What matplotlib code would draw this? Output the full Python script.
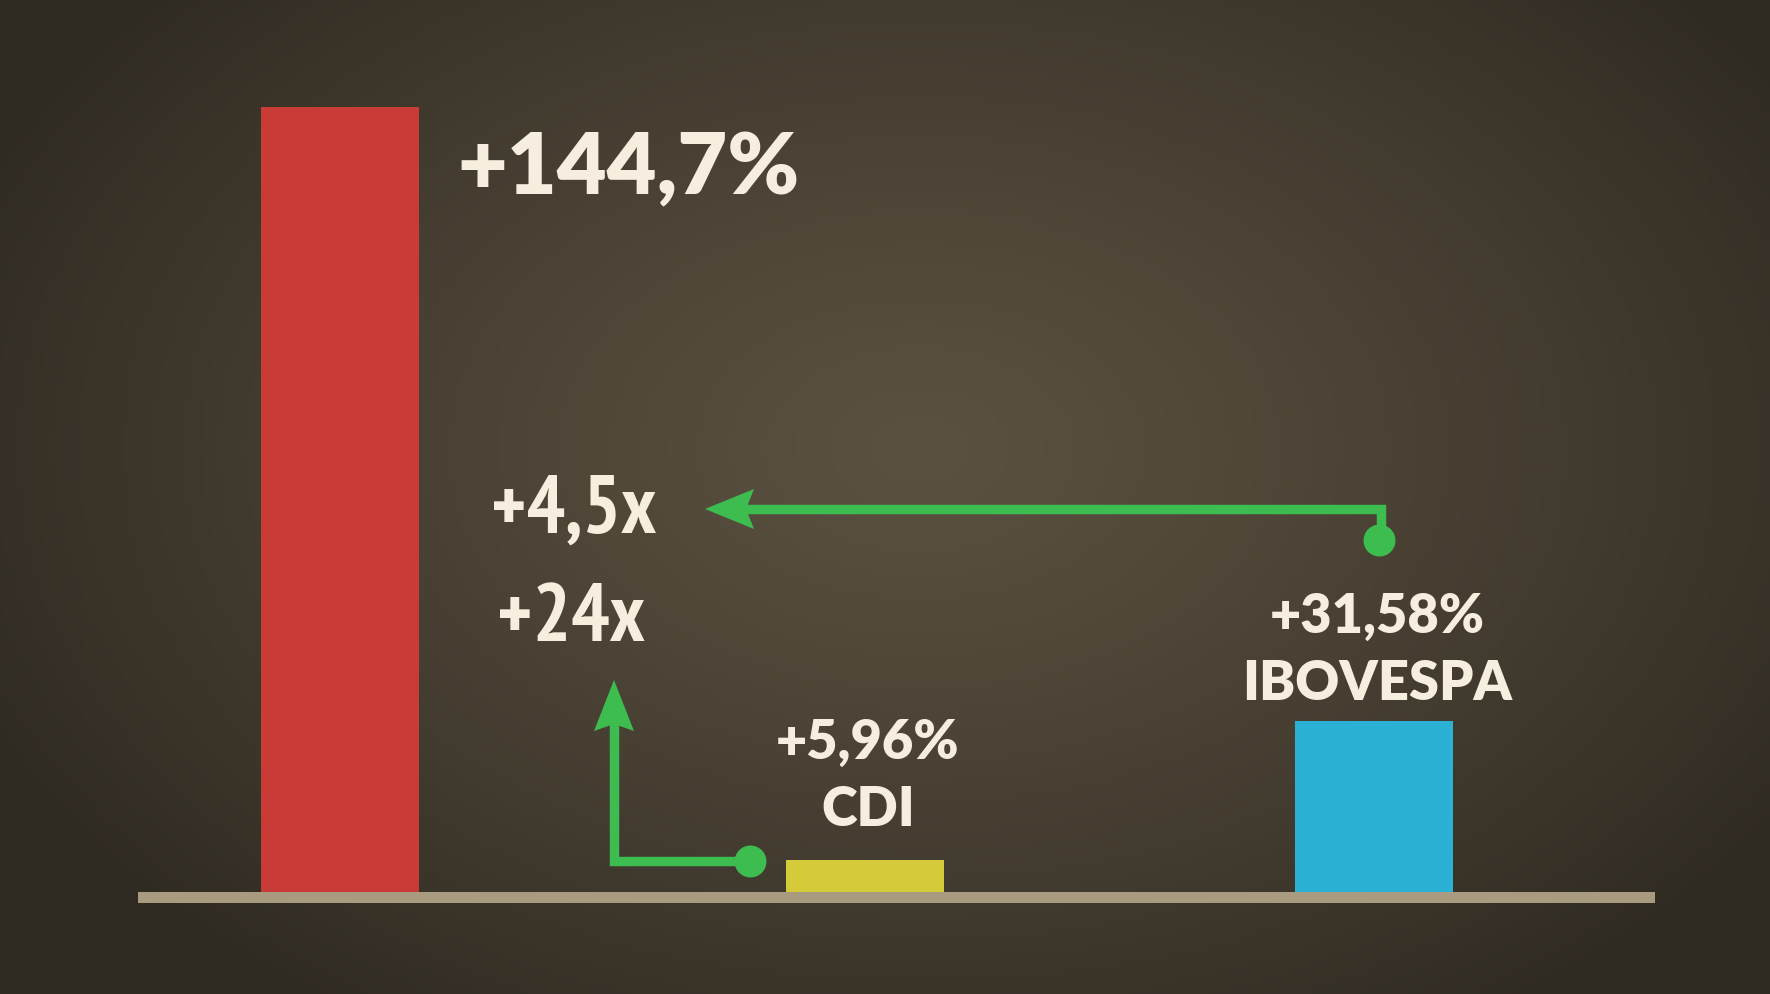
import numpy as np
import matplotlib
matplotlib.use("Agg")
import matplotlib.pyplot as plt
from matplotlib import font_manager as fm
from matplotlib.patches import Polygon

# ── data ────────────────────────────────────────────────────────────────
categories = ["", "CDI", "IBOVESPA"]
returns = [144.7, 5.96, 31.58]
value_labels = ["+144,7%", "+5,96%", "+31,58%"]
multiples = ["+4,5x", "+24x"]

# ── style ───────────────────────────────────────────────────────────────
RED = "#c93b37"
YELLOW = "#d5cb3a"
BLUE = "#2bb1d3"
GREEN = "#3dbd4f"
BASE = "#a99b7f"
CREAM = "#f6efdf"
BAR_COLORS = [RED, YELLOW, BLUE]

W, H = 1770, 995          # canvas in px (dpi 100)
Y0 = 893                  # baseline, px from top
S = 785 / 144.7           # px per percentage point
X_BARS = [340, 865, 1374]
BAR_W = 158


def yv(py):
    """pixel row (from top) -> data value"""
    return (Y0 - py) / S


def narrow_font(size):
    # pick the most condensed bold face that happens to be installed
    best = None
    for f in fm.fontManager.ttflist:
        n = f.name + " " + str(f.stretch)
        if not any(k in n for k in ("Condensed", "Narrow", "condensed")):
            continue
        if f.weight not in ("bold", 700, "heavy", "black", 800, 900):
            continue
        rank = 0 if "Narrow" in f.name else (1 if "Roboto" in f.name else 2)
        if best is None or rank < best[0]:
            best = (rank, f.fname)
    if best:
        return fm.FontProperties(fname=best[1], size=size)
    return fm.FontProperties(family="DejaVu Sans", weight="bold",
                             stretch="condensed", size=size)


fig = plt.figure(figsize=(W / 100, H / 100), dpi=100)
ax = fig.add_axes([0, 0, 1, 1])
ax.set_xlim(0, W)
ax.set_ylim(yv(H), yv(0))
ax.axis("off")

# chalkboard background: radial brown gradient
gx, gy = np.meshgrid(np.linspace(0, W, 400), np.linspace(0, H, 225))
r = np.sqrt(((gx - 920) / 1050) ** 2 + ((gy - 450) / 700) ** 2)
t = np.clip(r, 0, 1) ** 1.2
c_in = np.array([0x5b, 0x51, 0x41]) / 255
c_out = np.array([0x2f, 0x2a, 0x21]) / 255
img = c_in[None, None, :] * (1 - t[..., None]) + c_out[None, None, :] * t[..., None]
ax.imshow(img, extent=(0, W, yv(H), yv(0)), aspect="auto", zorder=0)

# bars
ax.bar(X_BARS, returns, width=BAR_W, color=BAR_COLORS, zorder=2)

# baseline strip
ax.fill_between([138, 1655], yv(904), 0, color=BASE, lw=0, zorder=3)

# labels
ax.text(457, yv(194), value_labels[0], color=CREAM, fontsize=62,
        family="Lato", fontweight="heavy", ha="left", va="baseline", zorder=4)
name_rows = {1: 826, 2: 700}
for i in (1, 2):
    base = yv(name_rows[i])
    ax.text(X_BARS[i] + 3, base, categories[i], color=CREAM, fontsize=39,
            family="Lato", fontweight="heavy", ha="center", va="baseline", zorder=4)
    ax.text(X_BARS[i] + 3, base + 67 / S, value_labels[i], color=CREAM,
            fontsize=39, family="Lato", fontweight="heavy", ha="center",
            va="baseline", zorder=4)

ax.text(491, yv(533), multiples[0], color=CREAM, fontproperties=narrow_font(58),
        ha="left", va="baseline", zorder=4)
ax.text(497, yv(641), multiples[1], color=CREAM, fontproperties=narrow_font(58),
        ha="left", va="baseline", zorder=4)

# green arrows
LW = 6.8
ax.plot([740, 1381, 1381], [yv(510), yv(510), yv(541)], color=GREEN, lw=LW,
        solid_joinstyle="miter", solid_capstyle="butt", zorder=4)
ax.plot([1379], [yv(541)], "o", ms=22, color=GREEN, zorder=5)
ax.add_patch(Polygon([[705, yv(510)], [754, yv(490)], [746, yv(510)], [754, yv(530)]],
                     closed=True, color=GREEN, lw=0, zorder=5))

ax.plot([614, 614, 750], [yv(722), yv(862), yv(862)], color=GREEN, lw=LW,
        solid_joinstyle="miter", solid_capstyle="butt", zorder=4)
ax.plot([750], [yv(862)], "o", ms=22, color=GREEN, zorder=5)
ax.add_patch(Polygon([[614, yv(681)], [594, yv(732)], [614, yv(725)], [634, yv(732)]],
                     closed=True, color=GREEN, lw=0, zorder=5))

fig.savefig("out.png", dpi=100)
